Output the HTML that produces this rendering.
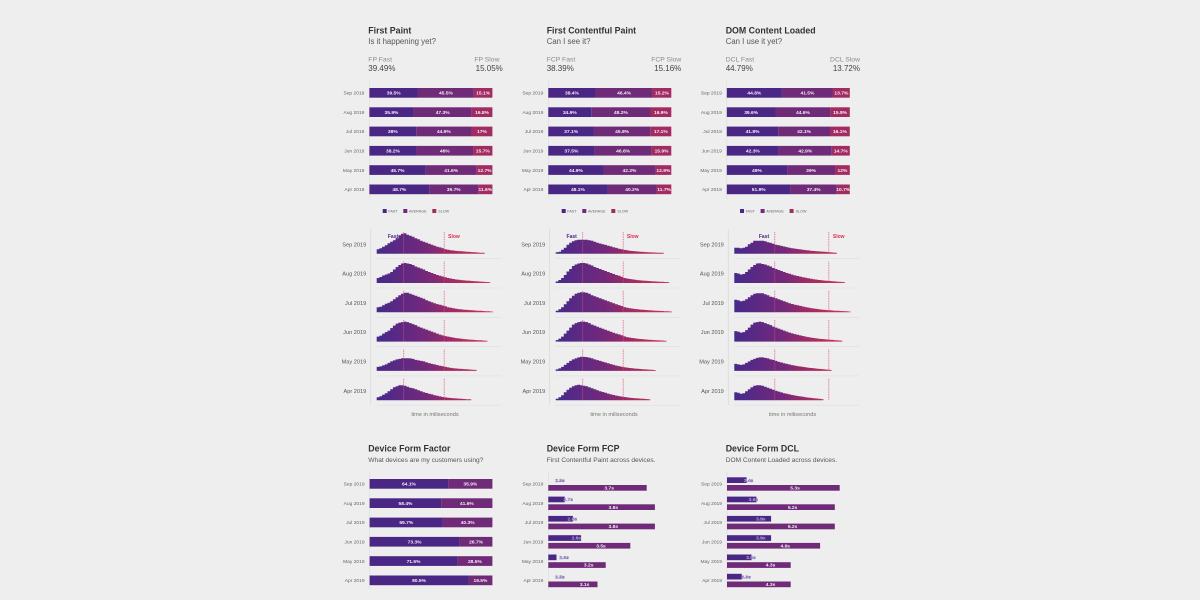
<!DOCTYPE html>
<html lang="en">
<head>
<meta charset="utf-8">
<title>Web performance dashboard</title>
<style>
html,body{margin:0;padding:0;background:#eeeeee;width:1200px;height:600px;overflow:hidden}
svg{display:block;font-family:"Liberation Sans",sans-serif;filter:blur(.3px)}
.title{font-size:8.8px;font-weight:bold;fill:#333}
.sub{font-size:7.8px;fill:#555}
.sub2{font-size:6.6px;fill:#555}
.kpi-l{font-size:6.8px;fill:#8a8a8a}
.kpi-v{font-size:8px;fill:#444}
.leg{font-size:3.7px;fill:#666}
.axis-t{font-size:5.6px;fill:#777}
</style>
</head>
<body>
<svg id="chart" width="1200" height="600" viewBox="0 0 1200 600" xmlns="http://www.w3.org/2000/svg">
<defs>
<linearGradient id="g0" gradientUnits="userSpaceOnUse" x1="377" y1="0" x2="487" y2="0"><stop offset="0" stop-color="#47298a"/><stop offset=".45" stop-color="#74297a"/><stop offset=".65" stop-color="#9c2b66"/><stop offset="1" stop-color="#cf2f55"/></linearGradient>
<linearGradient id="g1" gradientUnits="userSpaceOnUse" x1="556" y1="0" x2="666" y2="0"><stop offset="0" stop-color="#47298a"/><stop offset=".45" stop-color="#74297a"/><stop offset=".65" stop-color="#9c2b66"/><stop offset="1" stop-color="#cf2f55"/></linearGradient>
<linearGradient id="g2" gradientUnits="userSpaceOnUse" x1="734" y1="0" x2="844" y2="0"><stop offset="0" stop-color="#47298a"/><stop offset=".45" stop-color="#74297a"/><stop offset=".65" stop-color="#9c2b66"/><stop offset="1" stop-color="#cf2f55"/></linearGradient>
</defs>

<text class="title" x="368.3" y="33.5">First Paint</text>
<text class="sub" x="368.3" y="44">Is it happening yet?</text>
<text class="kpi-l" x="368.3" y="61.5">FP Fast</text>
<text class="kpi-v" x="368.3" y="71">39.49%</text>
<text class="kpi-l" x="499.5" y="61.5" text-anchor="end">FP Slow</text>
<text class="kpi-v" x="502.8" y="71" text-anchor="end">15.05%</text>

<text class="title" x="546.7" y="33.5">First Contentful Paint</text>
<text class="sub" x="546.7" y="44">Can I see it?</text>
<text class="kpi-l" x="546.7" y="61.5">FCP Fast</text>
<text class="kpi-v" x="546.7" y="71">38.39%</text>
<text class="kpi-l" x="681.3" y="61.5" text-anchor="end">FCP Slow</text>
<text class="kpi-v" x="681.3" y="71" text-anchor="end">15.16%</text>

<text class="title" x="725.7" y="33.5">DOM Content Loaded</text>
<text class="sub" x="725.7" y="44">Can I use it yet?</text>
<text class="kpi-l" x="725.7" y="61.5">DCL Fast</text>
<text class="kpi-v" x="725.7" y="71">44.79%</text>
<text class="kpi-l" x="860" y="61.5" text-anchor="end">DCL Slow</text>
<text class="kpi-v" x="860" y="71" text-anchor="end">13.72%</text>

<g>
<rect x="382.7" y="209" width="4" height="4" fill="#4a2785"/><text class="leg" x="388.3" y="212.4">FAST</text>
<rect x="403.3" y="209" width="4" height="4" fill="#6f2a78"/><text class="leg" x="409" y="212.4">AVERAGE</text>
<rect x="432.3" y="209" width="4" height="4" fill="#a22c62"/><text class="leg" x="438.3" y="212.4">SLOW</text>
</g>
<g transform="translate(179 0)">
<rect x="382.7" y="209" width="4" height="4" fill="#4a2785"/><text class="leg" x="388.3" y="212.4">FAST</text>
<rect x="403.3" y="209" width="4" height="4" fill="#6f2a78"/><text class="leg" x="409" y="212.4">AVERAGE</text>
<rect x="432.3" y="209" width="4" height="4" fill="#a22c62"/><text class="leg" x="438.3" y="212.4">SLOW</text>
</g>
<g transform="translate(357.3 0)">
<rect x="382.7" y="209" width="4" height="4" fill="#4a2785"/><text class="leg" x="388.3" y="212.4">FAST</text>
<rect x="403.3" y="209" width="4" height="4" fill="#6f2a78"/><text class="leg" x="409" y="212.4">AVERAGE</text>
<rect x="432.3" y="209" width="4" height="4" fill="#a22c62"/><text class="leg" x="438.3" y="212.4">SLOW</text>
</g>

<text class="axis-t" x="435" y="416" text-anchor="middle">time in miliseconds</text>
<text class="axis-t" x="614" y="416" text-anchor="middle">time in miliseconds</text>
<text class="axis-t" x="792.5" y="416" text-anchor="middle">time in miliseconds</text>

<text class="title" x="368.3" y="451.7">Device Form Factor</text>
<text class="sub2" x="368.3" y="462">What devices are my customers using?</text>
<text class="title" x="546.7" y="451.7">Device Form FCP</text>
<text class="sub2" x="546.7" y="462">First Contentful Paint across devices.</text>
<text class="title" x="725.7" y="451.7">Device Form DCL</text>
<text class="sub2" x="725.7" y="462">DOM Content Loaded across devices.</text>
</svg>

<script>
var months = ['Sep 2019','Aug 2019','Jul 2019','Jun 2019','May 2019','Apr 2019'];

var fpFast = [39.5,35.9,38,38.2,45.7,48.7];
var fpAvg = [45.5,47.3,44.9,46,41.6,39.7];
var fpSlow = [15.1,16.8,17,15.7,12.7,11.6];
var fcpFast = [38.4,34.9,37.1,37.5,44.9,48.1];
var fcpAvg = [46.4,48.2,45.8,46.6,42.2,40.2];
var fcpSlow = [15.2,16.9,17.1,15.9,12.9,11.7];
var dclFast = [44.8,39.6,41.8,42.3,49,51.9];
var dclAvg = [41.5,44.6,42.1,42.9,39,37.4];
var dclSlow = [13.7,15.8,16.1,14.7,12,10.7];
var devicePhone = [64.1,58.4,59.7,73.3,71.5,80.5];
var deviceDesktop = [35.9,41.6,40.3,26.7,28.5,19.5];

var deviceFcpA = [2.5,2.7,2.8,2.9,2.6,2.5];
var deviceFcpB = [3.7,3.8,3.8,3.5,3.2,3.1];
var deviceDclA = [3.4,3.6,3.9,3.9,3.5,3.3];
var deviceDclB = [5.3,5.2,5.2,4.9,4.3,4.3];

var fpThresholds = [1000,2500];
var fcpThresholds = [1000,2500];
var dclThresholds = [1500,3500];

var fpSep = [4.5,5.5,7,8.5,10.5,12,13.5,16,18.5,20,20.5,19,18,17,15.5,14.5,13,12,11,10,9,8,7,6.3,5.5,4.5,4,3.5,3.2,2.8,2.6,2.4,2.2,2,1.8,1.6,1.4,1.2,1,0.9];
var fpAug = [5,6,7.5,8.5,9.5,11,13.5,16,18,19.5,20,19.5,19,18,16.5,15.5,14.5,13.5,12,11,10,9,8,7.2,6.5,5.8,5,4.5,4,3.5,3.2,2.9,2.6,2.4,2.2,2,1.8,1.6,1.4,1.2,1,0.9];
var fpJul = [5,5.5,7,8.5,9.5,11,13,15,17,18.5,19.5,19.5,18.5,17.5,16.5,15.5,14.5,13.5,12,11,10,9,8.2,7.5,6.8,6,5,4.5,4,3.6,3.2,2.9,2.6,2.4,2.2,2,1.8,1.6,1.5,1.3,1.1,1,0.8];
var fpJun = [5,6,8,9.5,11,13.5,16,18,19,19.5,20,19.5,18.5,17.5,16.5,15,14,13,12,11,10,9,8,7,6.2,5.5,5,4.5,4,3.5,3.2,2.8,2.5,2.2,2,1.8,1.6,1.4,1.3,1.1,0.9];
var fpMay = [4,4.5,5.5,6.5,8,9.5,10.5,11.5,12,12.7,12.7,12.7,12.5,12,11,10.5,10,9.5,8.5,7.8,7,6.5,5.8,5.2,4.6,4,3.5,3,2.7,2.4,2.2,2,1.8,1.6,1.4,1.2,1];
var fpApr = [3,4,5.5,7,9,11,13,14,15,15,14.5,13.5,12.5,12,11,10,9,8,7.2,6.5,5.8,5,4.4,3.8,3.2,2.8,2.5,2.2,2,1.8,1.6,1.4,1.2,1,0.9];

var fcpSep = [1.5,2,4,6,9,11,12.5,13.5,14,14,14,14,13.5,13,12,11,10.2,9.5,8.8,8,7.3,6.5,5.8,5,4.4,3.8,3.4,3,2.7,2.4,2.2,2,1.8,1.6,1.5,1.3,1.2,1.1,1,0.9];
var fcpAug = [1.5,3,5,8,11.5,14,17,18.5,19.5,20,20,19.5,18.5,17.5,16,15,14,13,12,11,10,9,8,7.2,6.3,5,4.5,4,3.6,3.2,2.9,2.6,2.4,2.2,2,1.8,1.6,1.5,1.3,1.2,1,0.9];
var fcpJul = [1.5,3,5,8,11,14,16.5,18.5,19.5,20,20,19.5,18.5,17,16,15,14,13,12,11,10,9,8,7.2,6.3,5.2,4.6,4.1,3.7,3.3,3,2.7,2.5,2.3,2.1,1.9,1.7,1.6,1.4,1.3,1.1,1,0.8];
var fcpJun = [1.5,3,5,8,11,14,17,18.5,19.5,20,20,19.5,18.5,17,16,14.8,13.8,12.8,11.8,10.8,9.8,8.8,8,7.2,6.3,5.2,4.5,4,3.6,3.2,2.9,2.6,2.3,2.1,1.9,1.7,1.5,1.4,1.2,1.1,0.9];
var fcpMay = [1.5,2.5,4,6,8,10,11.5,12.5,13.5,14,14,13.8,13.3,12.5,11.5,10.8,10,9.2,8.4,7.6,6.8,6,5.3,4.8,4.2,3.7,3.3,2.9,2.6,2.3,2.1,1.9,1.7,1.5,1.3,1.1,0.9];
var fcpApr = [1.5,3,5,8,10.5,12.5,14,15,15.5,15,14.5,14,13,12,11,10,9,8.2,7.4,6.6,5.8,5.2,4.6,4.1,3.6,3.2,2.8,2.5,2.2,2,1.8,1.6,1.4,1.2,1];

var dclSep = [6,6,5.5,6,7,9.5,11,13,13,13,13,12.5,11.5,10.8,10,9,8.5,7.8,7.2,6.6,6,5.5,5.1,4.7,4.3,4,3.6,3.3,3,2.7,2.5,2.3,2.1,1.9,1.7,1.4,1.2,1];
var dclAug = [10,9.5,8.5,9,11,13.5,16,18,19.5,19.7,19,18.5,17.5,16.5,15,14,13,12,11,10,9.2,8.4,7.6,7,6.4,5.8,5.2,4.7,4.2,3.8,3.4,3,2.7,2.4,2.2,2,1.8,1.5,1.3,1.1,0.9];
var dclJul = [12.5,12,11,11.5,13,15,17,18.5,19,19,19,18,17,15.5,15,14,13,12,11,10,9,8.3,7.6,7,6.4,5.8,5.2,4.7,4.2,3.8,3.4,3,2.7,2.4,2.2,2,1.8,1.6,1.5,1.3,1.2,1,0.8];
var dclJun = [10.5,10,9,9.5,11.5,14,17,19,19.5,20,19.5,18.5,17.5,16.5,15,14,13,12,11,10,9,8.2,7.5,6.8,6.2,5.6,5,4.5,4,3.6,3.2,2.9,2.6,2.3,2.1,1.9,1.7,1.4,1.2,1];
var dclMay = [7,6.5,6,6.5,8,9.5,11,12,13,13.5,13.5,13,12.5,11.5,11,10,9,8.4,7.7,7,6.4,5.8,5.3,4.8,4.4,4,3.6,3.2,2.9,2.6,2.3,2,1.8,1.5,1.3,1];
var dclApr = [8,7.5,6.5,7,9,11,13,14.5,15,15,14.5,13.5,12.5,11.5,10.5,9.5,8.6,7.8,7,6.4,5.8,5.2,4.7,4.2,3.8,3.4,3,2.6,2.3,2,1.7,1.4,1.1];

var svg = document.getElementById('chart');
var NS = 'http://www.w3.org/2000/svg';
var FAST = '#4a2785', AVG = '#6f2a78', SLOW = '#a22c62';
var ROW_STEP = 19.3;

function mk(tag, attrs, text) {
  var el = document.createElementNS(NS, tag);
  for (var k in attrs) el.setAttribute(k, attrs[k]);
  if (text !== undefined) el.textContent = text;
  svg.appendChild(el);
  return el;
}
function fmtPct(v) { return v + '%'; }

function stackedChart(key, left, top, width, series, colors, segNames) {
  var axis = mk('line', {x1:left, x2:left, y1:top-7, y2:top+6*ROW_STEP-5, stroke:'#dcdcdc', 'stroke-width':.6});
  
  
  months.forEach(function (m, i) {
    var y = top + i * ROW_STEP;
    var total = 0;
    series.forEach(function (s) { total += s[i]; });
    var scale = function (v) { return v / total * width; };
    var lab = mk('text', {x:left-5, y:y+6.6, 'text-anchor':'end', 'font-size':4.9, fill:'#666'}, m);
    
    
    var cum = 0;
    series.forEach(function (s, j) {
      var w = scale(s[i]);
      var x = left + scale(cum);
      var r = mk('rect', {x:x, y:y, width:w, height:9.7, fill:colors[j]});
      
      
      var t = mk('text', {x:x+w/2, y:y+6.6, 'text-anchor':'middle', 'font-size':4.9, 'font-weight':'bold', fill:'#f6ecf8'}, fmtPct(s[i]));
      
      
      cum += s[i];
    });
  });
}

function histogramChart(key, left, fillId, thresholds, rows, fastLabelX, slowLabelX) {
  var pxPerMs = 0.027, binMs = 100;
  var xScale = function (ms) { return left + ms * pxPerMs; };
  var baseFirst = 253.7, baseStep = 29.3;
  var axis = mk('line', {x1:left-6, x2:left-6, y1:229, y2:405, stroke:'#d8d8d8', 'stroke-width':.7});
  
  
  rows.forEach(function (vals, r) {
    var base = baseFirst + r * baseStep;
    var yScale = function (v) { return base - v; };
    var d = 'M' + xScale(0) + ' ' + base;
    vals.forEach(function (v, i) {
      d += 'L' + xScale(i * binMs).toFixed(2) + ' ' + yScale(v).toFixed(2);
      d += 'L' + xScale((i + 1) * binMs).toFixed(2) + ' ' + yScale(v).toFixed(2);
    });
    d += 'L' + xScale(vals.length * binMs).toFixed(2) + ' ' + base + 'Z';
    var sep = mk('line', {x1:left, x2:left+125, y1:base+5, y2:base+5, stroke:'#dedede', 'stroke-width':.6});
    
    
    var lab = mk('text', {x:left-10.5, y:base-7.4, 'text-anchor':'end', 'font-size':5.6, fill:'#555'}, months[r]);
    
    
    var area = mk('path', {d:d, fill:'url(#' + fillId + ')'});
    
    
    thresholds.forEach(function (ms, t) {
      var ln = mk('line', {x1:xScale(ms), x2:xScale(ms), y1:base-21.5, y2:base, stroke:'#e04a78', 'stroke-width':.8, 'stroke-dasharray':'1 .7', opacity:.9});
      
      
    });
  });
  var f = mk('text', {x:fastLabelX, y:237.8, 'text-anchor':'middle', 'font-size':5, 'font-weight':'bold', fill:'#4a2785', stroke:'#eeeeee', 'stroke-width':1, 'stroke-opacity':.6, 'paint-order':'stroke'}, 'Fast');
  
  
  var s = mk('text', {x:slowLabelX, y:237.8, 'text-anchor':'middle', 'font-size':5, 'font-weight':'bold', fill:'#d6305a'}, 'Slow');
  
  
}

function groupedChart(key, left, domainMin, pxPerSec, topSeries, bottomSeries) {
  var xLen = function (v) { return (v - domainMin) * pxPerSec; };
  var axis = mk('line', {x1:left, x2:left, y1:472, y2:590, stroke:'#dcdcdc', 'stroke-width':.6});
  
  
  months.forEach(function (m, i) {
    var y = 477.3 + i * ROW_STEP;
    var lab = mk('text', {x:left-5, y:y+8.3, 'text-anchor':'end', 'font-size':4.9, fill:'#666'}, m);
    
    
    [topSeries, bottomSeries].forEach(function (s, j) {
      var w = xLen(s[i]);
      var by = y + j * 7.7;
      var r = mk('rect', {x:left, y:by, width:w, height:5.7, fill:j ? AVG : FAST});
      
      
      var t = mk('text', {x:left+w/2+11.7, y:by+4.5, 'text-anchor':'middle', 'font-size':4.9, 'font-weight':'bold', fill:'#f6ecf8', stroke:j ? 'none' : '#6a50a8', 'stroke-width':.3}, s[i] + 's');
      
      
    });
  });
}

var segs3 = ['fast','average','slow'];
stackedChart('fp', 369.4, 88, 123, [fpFast,fpAvg,fpSlow], [FAST,AVG,SLOW], segs3);
stackedChart('fcp', 548.3, 88, 123, [fcpFast,fcpAvg,fcpSlow], [FAST,AVG,SLOW], segs3);
stackedChart('dcl', 726.8, 88, 123, [dclFast,dclAvg,dclSlow], [FAST,AVG,SLOW], segs3);
stackedChart('device', 369.6, 479, 122.8, [devicePhone,deviceDesktop], [FAST,AVG], ['phone','desktop']);

histogramChart('fp', 376.7, 'g0', fpThresholds, [fpSep,fpAug,fpJul,fpJun,fpMay,fpApr], 393, 454);
histogramChart('fcp', 555.7, 'g1', fcpThresholds, [fcpSep,fcpAug,fcpJul,fcpJun,fcpMay,fcpApr], 571.7, 632.7);
histogramChart('dcl', 734.3, 'g2', dclThresholds, [dclSep,dclAug,dclJul,dclJun,dclMay,dclApr], 764, 838.7);

groupedChart('device-fcp', 548.3, 2.5, 82, deviceFcpA, deviceFcpB);
groupedChart('device-dcl', 727, 3.0, 49, deviceDclA, deviceDclB);
</script>
</body>
</html>
